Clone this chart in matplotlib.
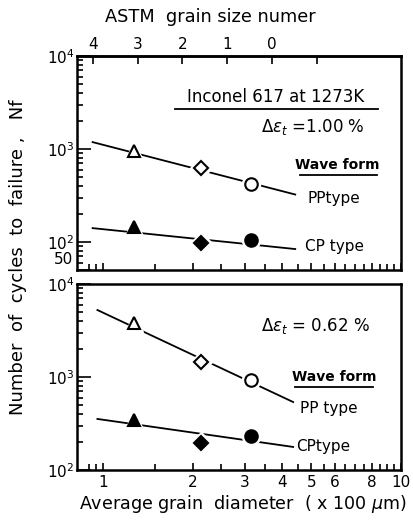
import numpy as np
import matplotlib
matplotlib.use("Agg")
import matplotlib.pyplot as plt
from matplotlib.ticker import FixedLocator, NullFormatter, FixedFormatter, LogLocator

# ---- data (grain diameter in x100 um, cycles to failure) ----
d_pts = [1.27, 2.14, 3.14]
pp_100 = [950, 630, 425]
cp_100 = [144, 98, 105]
pp_062 = [3800, 1450, 930]
cp_062 = [345, 195, 232]
# fitted trend lines (end points)
line_d = [0.925, 4.42]
pp_100_line = [1186, 324]
cp_100_line = [141, 84]
line_d2 = [0.96, 4.35]
pp_062_line = [5250, 538]
cp_062_line = [354, 177]
markers = ['^', 'D', 'o']
x_labels = ['1', '2', '3', '4', '5', '6', '8', '10']
x_label_vals = [1, 2, 3, 4, 5, 6, 8, 10]
astm_numbers = [4, 3, 2, 1, 0]
astm_extra = [-1]

W, H = 414, 520
fig = plt.figure(figsize=(W / 100, H / 100), dpi=100)
plt.rcParams['font.family'] = ['DejaVu Sans']
FS = 11

def ax_rect(l, t, r, b):
    return [l / W, 1 - b / H, (r - l) / W, (b - t) / H]

ax1 = fig.add_axes(ax_rect(77, 56, 401, 270))
ax2 = fig.add_axes(ax_rect(77, 284, 401, 470))

def style(ax):
    ax.set_xscale('log')
    ax.set_yscale('log')
    ax.set_xlim(0.82, 10)
    for s in ax.spines.values():
        s.set_linewidth(1.8)
    xt = [0.9, 0.95] + list(np.arange(1.0, 10.01, 0.5))
    ax.xaxis.set_major_locator(FixedLocator(x_label_vals))
    ax.xaxis.set_minor_locator(FixedLocator([v for v in xt if v not in x_label_vals]))
    ax.tick_params(which='both', direction='in', length=5, width=1.2,
                   top=False, right=False, labelsize=FS)
    ax.tick_params(which='minor', length=4)
    ax.yaxis.set_minor_locator(LogLocator(base=10, subs=np.arange(2, 10)))
    ax.yaxis.set_minor_formatter(NullFormatter())

def draw(ax, ld, pl, cl, pp, cp):
    ax.plot(ld, pl, color='black', lw=1.3, zorder=2)
    ax.plot(ld, cl, color='black', lw=1.3, zorder=2)
    for x, y, m in zip(d_pts, pp, markers):
        ms = 9 if m != 'D' else 7.5
        ax.plot([x], [y], marker=m, ms=ms + 4, color='white', mec='white', zorder=3)
        ax.plot([x], [y], marker=m, ms=ms, mfc='white', mec='black', mew=1.5, zorder=4)
    for x, y, m in zip(d_pts, cp, markers):
        ms = 9 if m != 'D' else 7.5
        ax.plot([x], [y], marker=m, ms=ms + 4, color='white', mec='white', zorder=3)
        ax.plot([x], [y], marker=m, ms=ms, mfc='black', mec='black', mew=1.5, zorder=4)

style(ax1)
style(ax2)
ax1.set_ylim(50, 1e4)
ax2.set_ylim(100, 1e4)
draw(ax1, line_d, pp_100_line, cp_100_line, pp_100, cp_100)
draw(ax2, line_d2, pp_062_line, cp_062_line, pp_062, cp_062)

ax1.yaxis.set_major_locator(FixedLocator([50, 100, 1000, 10000]))
ax1.yaxis.set_major_formatter(FixedFormatter(['', r'$10^2$', r'$10^3$', r'$10^4$']))
ax2.yaxis.set_major_locator(FixedLocator([100, 1000, 10000]))
ax2.yaxis.set_major_formatter(FixedFormatter([r'$10^2$', r'$10^3$', r'$10^4$']))
ax1.tick_params(axis='x', labelbottom=False)
ax2.xaxis.set_major_formatter(FixedFormatter(x_labels))
ax2.xaxis.set_minor_formatter(NullFormatter())
ax1.tick_params(axis='y', which='major', length=10, pad=2)
ax2.tick_params(axis='y', which='major', length=10, pad=2)

# ASTM grain size: mean diameter doubles every 2 grain-size numbers
d0 = 3.7
def g2d(g):
    return d0 * 2.0 ** (-np.asarray(g, dtype=float) / 2.0)
sec = ax1.secondary_xaxis('top')
sec.xaxis.set_major_locator(FixedLocator(list(g2d(astm_numbers))))
sec.xaxis.set_minor_locator(FixedLocator(list(g2d(astm_extra))))
sec.xaxis.set_major_formatter(FixedFormatter([str(g) for g in astm_numbers]))
sec.xaxis.set_minor_formatter(NullFormatter())
sec.tick_params(which='both', direction='in', length=6, width=1.2, labelsize=FS, pad=3)
sec.spines['top'].set_linewidth(1.8)

def ftext(x, y, s, **kw):
    fig.text(x / W, 1 - y / H, s, fontsize=kw.pop('fontsize', FS), **kw)

def uline(x0, x1, y):
    fig.add_artist(plt.Line2D([x0 / W, x1 / W], [1 - y / H, 1 - y / H], color='black', lw=1.3))

# "50" label sits just above the bottom of the upper panel
ftext(73, 260, '50', ha='right', va='center', fontsize=FS)

ftext(210, 17, 'ASTM  grain size numer', ha='center', va='center', fontsize=12.8)
ftext(243, 504, r'Average grain  diameter  ( x 100 $\mu$m)', ha='center', va='center', fontsize=12.6)
ftext(18, 257, 'Number  of  cycles  to  failure ,   Nf', ha='center', va='center',
      rotation=90, fontsize=13)

ftext(276, 97, 'Inconel 617 at 1273K', ha='center', va='center', fontsize=12)
uline(175, 378, 109)
ftext(365, 127, r'$\Delta\epsilon_{t}$ =1.00 %', ha='right', va='center', fontsize=12)
ftext(337, 165, 'Wave form', ha='center', va='center', fontsize=10, fontweight='bold')
uline(300, 377, 175)
ftext(308, 198, 'PPtype', ha='left', va='center', fontsize=11)
ftext(305, 246, 'CP type', ha='left', va='center', fontsize=11)

ftext(370, 326, r'$\Delta\epsilon_{t}$ = 0.62 %', ha='right', va='center', fontsize=12)
ftext(334, 377, 'Wave form', ha='center', va='center', fontsize=10, fontweight='bold')
uline(295, 373, 387)
ftext(300, 408, 'PP type', ha='left', va='center', fontsize=11)
ftext(296, 446, 'CPtype', ha='left', va='center', fontsize=11)

fig.savefig('out.png', dpi=100)
